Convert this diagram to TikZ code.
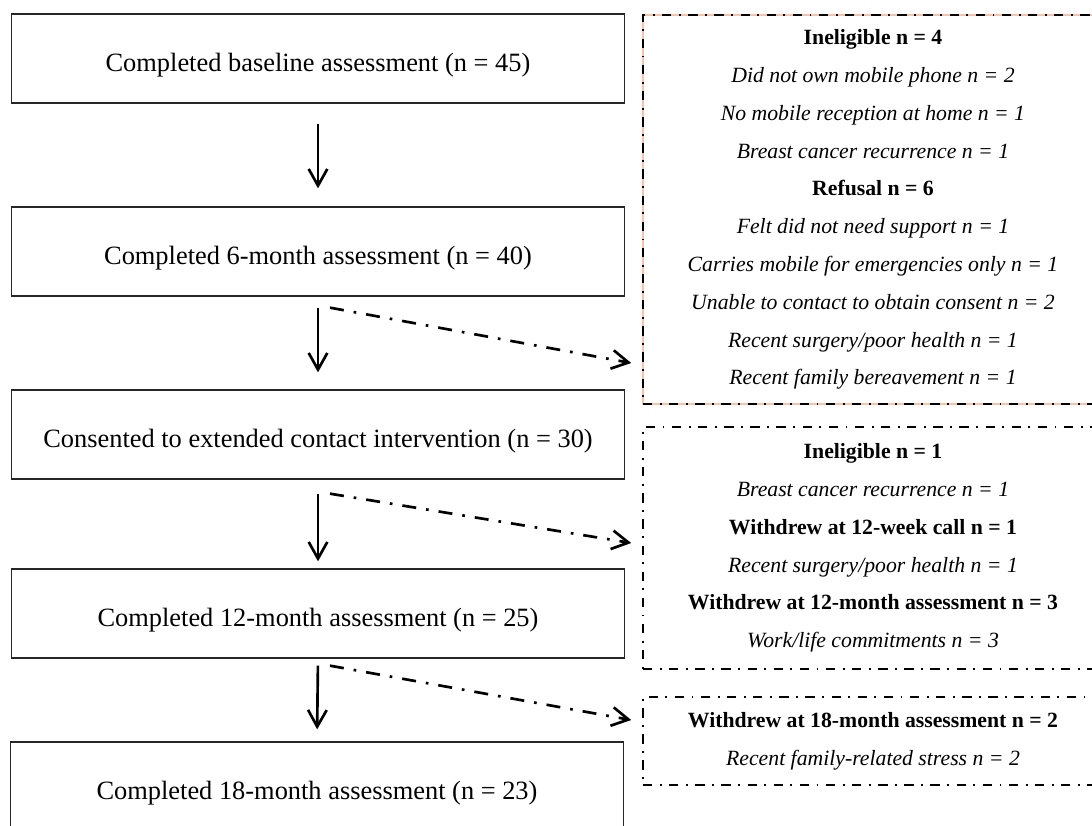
\documentclass[tikz,border=0pt]{standalone}
\usepackage{fontspec}
\setmainfont{Liberation Serif}
\usetikzlibrary{arrows.meta}
\definecolor{peach}{RGB}{246,196,170}

\tikzset{
  stage/.style={draw=black!85, line width=1pt, minimum width=459.75pt,
    minimum height=66.75pt, inner sep=0pt, text height=20pt, text depth=0pt,
    font=\fontsize{19.8}{23}\selectfont},
  excl/.style={draw, line width=1.2pt,
    dash pattern=on 7pt off 5.6pt on 1.4pt off 5.6pt,
    minimum width=345pt, inner sep=0pt, align=center,
    font=\fontsize{16.3}{28.35}\selectfont},
  flow/.style={-{Straight Barb[length=12.5pt,width=14pt]}, line width=2pt},
  drop/.style={flow, dash pattern=on 10.5pt off 7.5pt on 2pt off 7.5pt},
}

\begin{document}
\begin{tikzpicture}[x=0.75pt,y=-0.75pt]
\clip (0,0) rectangle (1092,825);

% follow-up stages
\node[stage] (b1) at (318,58.5)  {Completed baseline assessment (n = 45)};
\node[stage] (b2) at (318,251.5) {Completed 6-month assessment (n = 40)};
\node[stage] (b3) at (318,434.5) {Consented to extended contact intervention (n = 30)};
\node[stage] (b4) at (318,613.5) {Completed 12-month assessment (n = 25)};
\node[stage] (b5) at (317,786.5) {Completed 18-month assessment (n = 23)};

% exclusions and withdrawals
\node[excl, minimum height=291.75pt, preaction={draw=peach, solid, line width=1.6pt}] (exA) at (873,209.5) {%
  \textbf{Ineligible n = 4}\\
  \textit{Did not own mobile phone n = 2}\\
  \textit{No mobile reception at home n = 1}\\
  \textit{Breast cancer recurrence n = 1}\\
  \textbf{Refusal n = 6}\\
  \textit{Felt did not need support n = 1}\\
  \textit{Carries mobile for emergencies only n = 1}\\
  \textit{Unable to contact to obtain consent n = 2}\\
  \textit{Recent surgery/poor health n = 1}\\
  \textit{Recent family bereavement n = 1}};
\node[excl, minimum height=181.5pt] (exB) at (873,548) {%
  \textbf{Ineligible n = 1}\\
  \textit{Breast cancer recurrence n = 1}\\
  \textbf{Withdrew at 12-week call n = 1}\\
  \textit{Recent surgery/poor health n = 1}\\
  \textbf{Withdrew at 12-month assessment n = 3}\\
  \textit{Work/life commitments n = 3}};
\node[excl, minimum height=66pt] (exC) at (873,741) {%
  \textbf{Withdrew at 18-month assessment n = 2}\\
  \textit{Recent family-related stress n = 2}};

% arrows
\draw[flow, shorten <=15pt, shorten >=13.5pt] (b1.south) -- (b2.north);
\draw[flow, shorten <=8.25pt, shorten >=12.75pt] (b2.south) -- (b3.north);
\draw[flow, shorten <=10.5pt, shorten >=5.25pt] (b3.south) -- (b4.north);
\draw[flow, shorten <=5.25pt, shorten >=9pt] (b4.south) -- (b5.north);

\draw[drop] ([shift={(12,11)}]b2.south) -- ([shift={(-11,153.5)}]exA.west);
\draw[drop] ([shift={(12,14)}]b3.south) -- ([shift={(-11,-5)}]exB.west);
\draw[drop] ([shift={(12,7)}]b4.south) -- ([shift={(-11,-21)}]exC.west);
\end{tikzpicture}
\end{document}
